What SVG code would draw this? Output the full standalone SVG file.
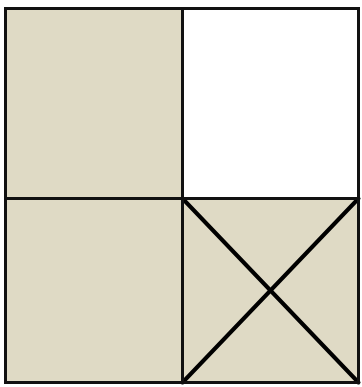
<svg xmlns="http://www.w3.org/2000/svg" width="362" height="387" viewBox="0 0 362 387">
<style>
.cell{fill:#dfdac5;stroke:none}
.ln{stroke:#111;stroke-width:3;fill:none}
.x{stroke:#000;stroke-width:4;stroke-linecap:round}
</style>
<rect width="362" height="387" fill="#fff"/>
<g id="cell-tl"><rect class="cell" x="5.5" y="8.5" width="177" height="190"/></g>
<g id="cell-tr"><rect x="182.5" y="8.5" width="176" height="190" fill="#fff"/></g>
<g id="cell-bl"><rect class="cell" x="5.5" y="198.5" width="177" height="184"/></g>
<g id="cell-br"><rect class="cell" x="182.5" y="198.5" width="176" height="184"/></g>
<g id="connectors">
<line class="x" x1="182.5" y1="198.5" x2="358.5" y2="382.5"/>
<line class="x" x1="358.5" y1="198.5" x2="182.5" y2="382.5"/>
<rect class="ln" x="5.5" y="8.5" width="353" height="374"/>
<line class="ln" x1="182.5" y1="8.5" x2="182.5" y2="382.5"/>
<line class="ln" x1="5.5" y1="198.5" x2="358.5" y2="198.5"/>
</g>
</svg>
